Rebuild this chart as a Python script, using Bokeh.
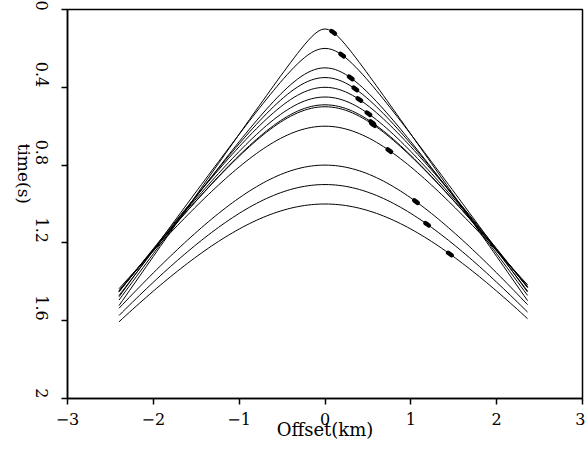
import math
import numpy as np
from bokeh.plotting import figure
from bokeh.models import Range1d, FixedTicker
from bokeh.embed import file_html
from bokeh.resources import INLINE

# --- data ---
t0s = [0.10, 0.20, 0.30, 0.35, 0.40, 0.45, 0.49, 0.50, 0.60, 0.80, 0.90, 1.00]   # zero-offset times (s)
vels = [1.58, 1.64, 1.64, 1.68, 1.72, 1.74, 1.76, 1.77, 1.84, 1.83, 1.86, 1.91]  # moveout velocities (km/s)
dot_offsets = [0.095, 0.20, 0.30, 0.353, 0.40, 0.506, 0.55, 0.56, 0.75, 1.06, 1.19, 1.455]  # marked offsets (km)
offset_min, offset_max, offset_step = -2.4, 2.36, 0.04
x_ticks = [-3, -2, -1, 0, 1, 2, 3]
x_tick_labels = ["\u22123", "\u22122", "\u22121", "0", "1", "2", "3"]
y_ticks = [0, 0.4, 0.8, 1.2, 1.6, 2]
y_tick_labels = ["0", "0.4", "0.8", "1.2", "1.6", "2"]

offsets = np.arange(offset_min, offset_max + 1e-9, offset_step)


def tt(t0, v, x):
    return np.sqrt(t0 ** 2 + (np.asarray(x) / v) ** 2)


xs = [list(offsets) for _ in t0s]
ys = [list(tt(t0, v, offsets)) for t0, v in zip(t0s, vels)]

dxs, dys = [], []
for t0, v, d in zip(t0s, vels, dot_offsets):
    seg = np.array([d - 0.02, d, d + 0.02])
    dxs.append(list(seg))
    dys.append(list(tt(t0, v, seg)))

FONT = "DejaVu Serif"

p = figure(width=585, height=452, output_backend="svg", toolbar_location=None,
           x_range=Range1d(-3, 3), y_range=Range1d(2, 0),
           min_border_left=64, min_border_right=3, min_border_top=9, min_border_bottom=54)
p.grid.visible = False
p.background_fill_color = "white"
p.border_fill_color = "white"
p.outline_line_color = "black"
p.outline_line_width = 1.5
p.outline_line_alpha = 1.0

p.multi_line(xs, ys, line_color="black", line_width=1)
p.multi_line(dxs, dys, line_color="black", line_width=4.5, line_cap="round")

for ax in (p.xaxis[0], p.yaxis[0]):
    ax.axis_line_color = "black"
    ax.axis_line_width = 1.5
    ax.major_tick_line_color = "black"
    ax.major_tick_line_width = 1.5
    ax.major_tick_out = 6
    ax.major_tick_in = 0
    ax.minor_tick_line_color = None
    ax.major_label_text_font = FONT
    ax.major_label_text_font_size = "16px"
    ax.major_label_text_color = "black"
    ax.axis_label_text_font = FONT
    ax.axis_label_text_font_size = "18px"
    ax.axis_label_text_font_style = "normal"
    ax.axis_label_text_color = "black"

xa = p.xaxis[0]
xa.ticker = FixedTicker(ticks=x_ticks)
xa.major_label_overrides = {t: l for t, l in zip(x_ticks, x_tick_labels)}
xa.axis_label = "Offset(km)"
xa.major_label_standoff = 8
xa.axis_label_standoff = -9

ya = p.yaxis[0]
ya.ticker = FixedTicker(ticks=y_ticks)
ya.major_label_overrides = {t: l for t, l in zip(y_ticks, y_tick_labels)}
ya.major_label_orientation = -math.pi / 2
ya.axis_label = "time(s)"
ya.axis_label_text_font_size = "17px"
ya.major_label_standoff = 20
ya.axis_label_standoff = 3
try:
    ya.axis_label_orientation = -math.pi / 2
except Exception:
    pass

open("out.html", "w").write(file_html(p, INLINE))
